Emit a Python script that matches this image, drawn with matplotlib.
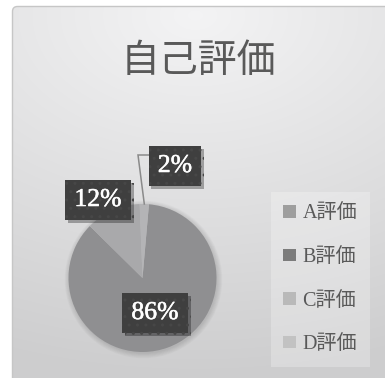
import matplotlib
matplotlib.use('Agg')
import matplotlib.pyplot as plt
import matplotlib.patheffects as pe
from matplotlib.patches import Patch, FancyBboxPatch, Circle
import numpy as np

plt.rcParams['font.family'] = ['Liberation Serif', 'Noto Sans CJK JP']
plt.rcParams['hatch.linewidth'] = 1.0

title = '自己評価'
categories = ['A評価', 'B評価', 'C評価', 'D評価']
shares = [86, 12, 2, 0]

pie_colors = ['#8f8f91', '#a9a9ab', '#b4b4b6', '#bdbdbd']
legend_colors = ['#9e9e9e', '#7c7c7c', '#b9b9b9', '#c2c2c2']

W, H = 385, 378
fig = plt.figure(figsize=(W / 100, H / 100), dpi=100)
fig.patch.set_facecolor('white')
ax = fig.add_axes([0, 0, 1, 1])

# chart area: soft radial gray gradient inside a thin rounded border
frame = FancyBboxPatch((12.5, -20), W + 20, H - 6.5 + 20,
                       boxstyle='round,pad=0,rounding_size=5',
                       fc='none', ec='#c6c6c6', lw=1.0, zorder=1)
ax.add_patch(frame)
yy, xx = np.mgrid[0:H, 0:W]
dist = np.sqrt(((xx - 195) / 1.5) ** 2 + (yy - 15) ** 2) / 360
shade = 0.955 - 0.15 * np.clip(dist, 0, 1)
bg = ax.imshow(np.dstack([shade, shade, shade + 0.004]).clip(0, 1),
               extent=(0, W, 0, H), origin='upper', aspect='auto', zorder=0)
bg.set_clip_path(frame)

center = (142.5, 100)
radius = 74

# faint shadow under the pie
for i in range(7):
    ax.add_patch(Circle((center[0] + 1, center[1] - 1.5), radius + 0.8 * i,
                        fc='black', ec='none', alpha=0.018, zorder=2))

wedges, _ = ax.pie(shares, colors=pie_colors, startangle=85,
                   counterclock=False, center=center, radius=radius,
                   frame=True, wedgeprops=dict(lw=0))
for w in wedges:
    w.set_zorder(3)

# data label boxes (centres in pixels)
label_pos = [(155, 65), (98, 178), (175, 212)]
for v, (x, y) in zip(shares, label_pos):
    if v == 0:
        continue
    t = ax.text(x, y, f'{v}%', fontsize=18.5, color='white',
                family=['Liberation Serif'], ha='center', va='center',
                zorder=6,
                bbox=dict(boxstyle='square,pad=0.36', fc='#3f3f3f',
                          ec='#474747', lw=0, hatch='..'))
    t.set_path_effects([pe.withStroke(linewidth=0.4, foreground='white')])
    t.get_bbox_patch().set_path_effects(
        [pe.SimplePatchShadow(offset=(2, -2), shadow_rgbFace='black',
                              alpha=0.3), pe.Normal()])

# leader line from the 2% box to its wedge
w = wedges[2]
mid = np.deg2rad((w.theta1 + w.theta2) / 2)
ex = center[0] + radius * np.cos(mid)
ey = center[1] + radius * np.sin(mid)
ax.plot([149, 138, ex], [223, 223, ey], color='#8a8a8a', lw=1.1,
        zorder=5, solid_joinstyle='miter')

ax.text(198.5, H - 61, title, fontsize=28, color='#595959',
        family=['Noto Sans CJK JP'], ha='center', va='center', zorder=6)

handles = [Patch(facecolor=c, edgecolor='none') for c in legend_colors]
leg = ax.legend(handles, categories, loc='upper left',
                bbox_to_anchor=(271 / W, 1 - 192 / H), borderaxespad=0,
                fontsize=14.5, labelspacing=1.22, handlelength=0.6,
                handleheight=0.6, handletextpad=0.35, borderpad=0.62,
                labelcolor='#595959', fancybox=False)
lf = leg.get_frame()
lf.set_facecolor('#ffffff')
lf.set_alpha(0.25)
lf.set_edgecolor('none')
leg.set_zorder(4)

ax.set_xlim(0, W)
ax.set_ylim(0, H)
ax.set_aspect('auto')
ax.axis('off')

fig.savefig('out.png', dpi=100, facecolor='white')
